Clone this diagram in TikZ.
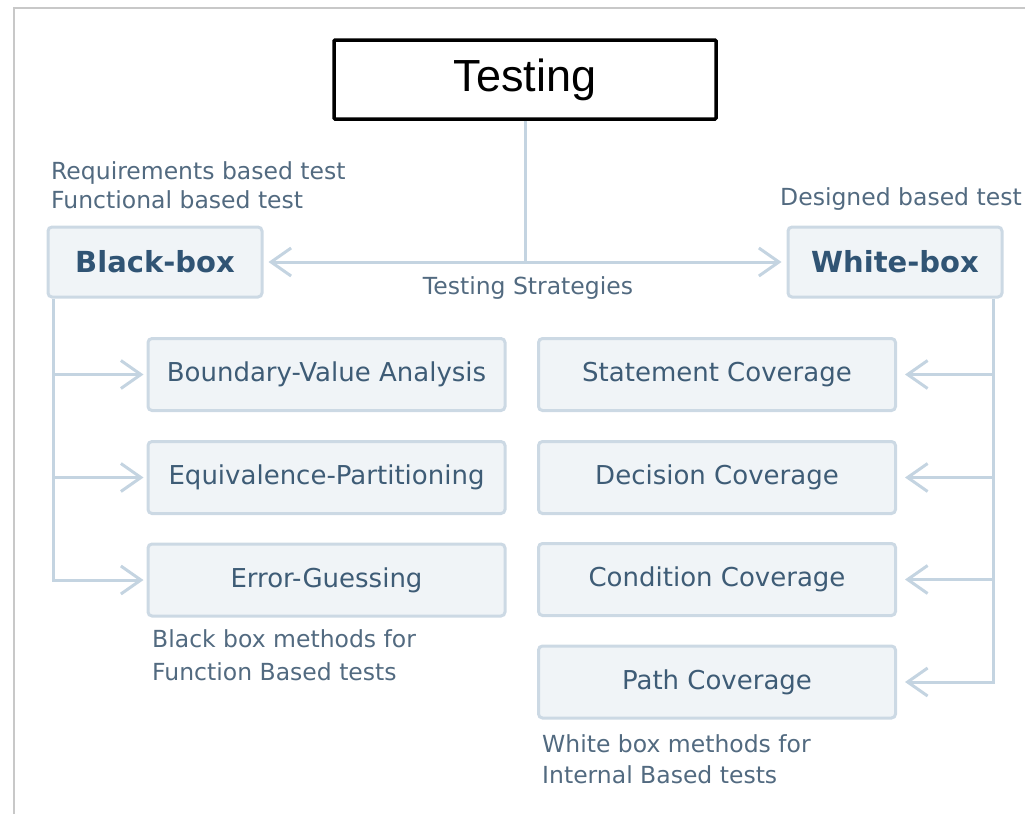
\documentclass[tikz,border=0pt]{standalone}
\usepackage{fontspec}
\setmainfont{DejaVu Sans}
\newfontfamily\arialfont{Liberation Sans}
\usetikzlibrary{arrows.meta}

\definecolor{frameclr}{RGB}{200,200,200}
\definecolor{boxfill}{RGB}{240,244,247}
\definecolor{boxedge}{RGB}{204,217,228}
\definecolor{lineclr}{RGB}{196,212,225}
\definecolor{headtext}{RGB}{48,84,116}
\definecolor{boxtext}{RGB}{62,92,118}
\definecolor{notetext}{RGB}{82,106,128}

\tikzset{
  panel/.style={draw=boxedge, line width=3pt, fill=boxfill, rounded corners=4pt,
    inner sep=0pt, text=boxtext, font=\fontsize{26}{30}\selectfont},
  headbox/.style={panel, minimum width=214pt, minimum height=70pt,
    text=headtext, font=\bfseries\fontsize{29}{34}\selectfont},
  methodbox/.style={panel, minimum width=357pt, minimum height=72pt},
  note/.style={anchor=base west, inner sep=0pt, text=notetext,
    font=\fontsize{23.5}{28}\selectfont},
  conn/.style={draw=lineclr, line width=3pt},
  barb/.tip={Straight Barb[length=20pt, width=28pt]},
}

\begin{document}
\begin{tikzpicture}[x=1pt, y=-1pt]
  \useasboundingbox (0,0) rectangle (1025,814);

  % outer page frame (top and left edges)
  \draw[frameclr, line width=2pt] (14,814) -- (14,8) -- (1025,8);

  % title box
  \node[draw=black, line width=3.5pt, fill=white, rounded corners=1pt,
        minimum width=382pt, minimum height=79pt, inner sep=0pt,
        font=\arialfont\fontsize{45}{50}\selectfont]
        (testing) at (525,79.5) {Testing};

  % strategy boxes
  \node[headbox] (bb) at (155,262) {Black-box};
  \node[headbox] (wb) at (895,262) {White-box};

  % black-box methods
  \node[methodbox] (bva) at (326.5,374.5) {Boundary-Value Analysis};
  \node[methodbox] (eqp) at (326.5,477.5) {Equivalence-Partitioning};
  \node[methodbox] (err) at (326.5,580)   {Error-Guessing};

  % white-box methods
  \node[methodbox] (stc) at (717,374.5) {Statement Coverage};
  \node[methodbox] (dec) at (717,477.5) {Decision Coverage};
  \node[methodbox] (cnd) at (717,579.5) {Condition Coverage};
  \node[methodbox] (pth) at (717,682)   {Path Coverage};

  % annotations
  \node[note] (req)  at (51,179)   {Requirements based test};
  \node[note] (func) at (51,208.5) {Functional based test};
  \node[note] (des)  at (780,205)  {Designed based test};
  \node[note, anchor=base] (strat) at (528,294) {Testing Strategies};
  \node[note] (bbm1) at (152,647)  {Black box methods for};
  \node[note] (bbm2) at (152,680)  {Function Based tests};
  \node[note] (wbm1) at (542,752)  {White box methods for};
  \node[note] (wbm2) at (542,783)  {Internal Based tests};

  % testing to the two strategies
  \coordinate (hub) at (testing.south |- bb.east);
  \draw[conn] (testing.south) -- (hub);
  \draw[conn, {barb}-{barb}, shorten <=5pt, shorten >=5pt] (bb.east) -- (wb.west);

  % black-box trunk and branches
  \coordinate (bl) at ([xshift=7pt]bb.south west);
  \draw[conn, -{barb}, shorten >=3pt] (bl) |- (err.west);
  \draw[conn, -{barb}, shorten >=3pt] (bl |- bva.west) -- (bva.west);
  \draw[conn, -{barb}, shorten >=3pt] (bl |- eqp.west) -- (eqp.west);

  % white-box trunk and branches
  \coordinate (wr) at ([xshift=-10pt]wb.south east);
  \draw[conn, -{barb}, shorten >=8pt] (wr) |- (pth.east);
  \draw[conn, -{barb}, shorten >=8pt] (wr |- stc.east) -- (stc.east);
  \draw[conn, -{barb}, shorten >=8pt] (wr |- dec.east) -- (dec.east);
  \draw[conn, -{barb}, shorten >=8pt] (wr |- cnd.east) -- (cnd.east);
\end{tikzpicture}
\end{document}
